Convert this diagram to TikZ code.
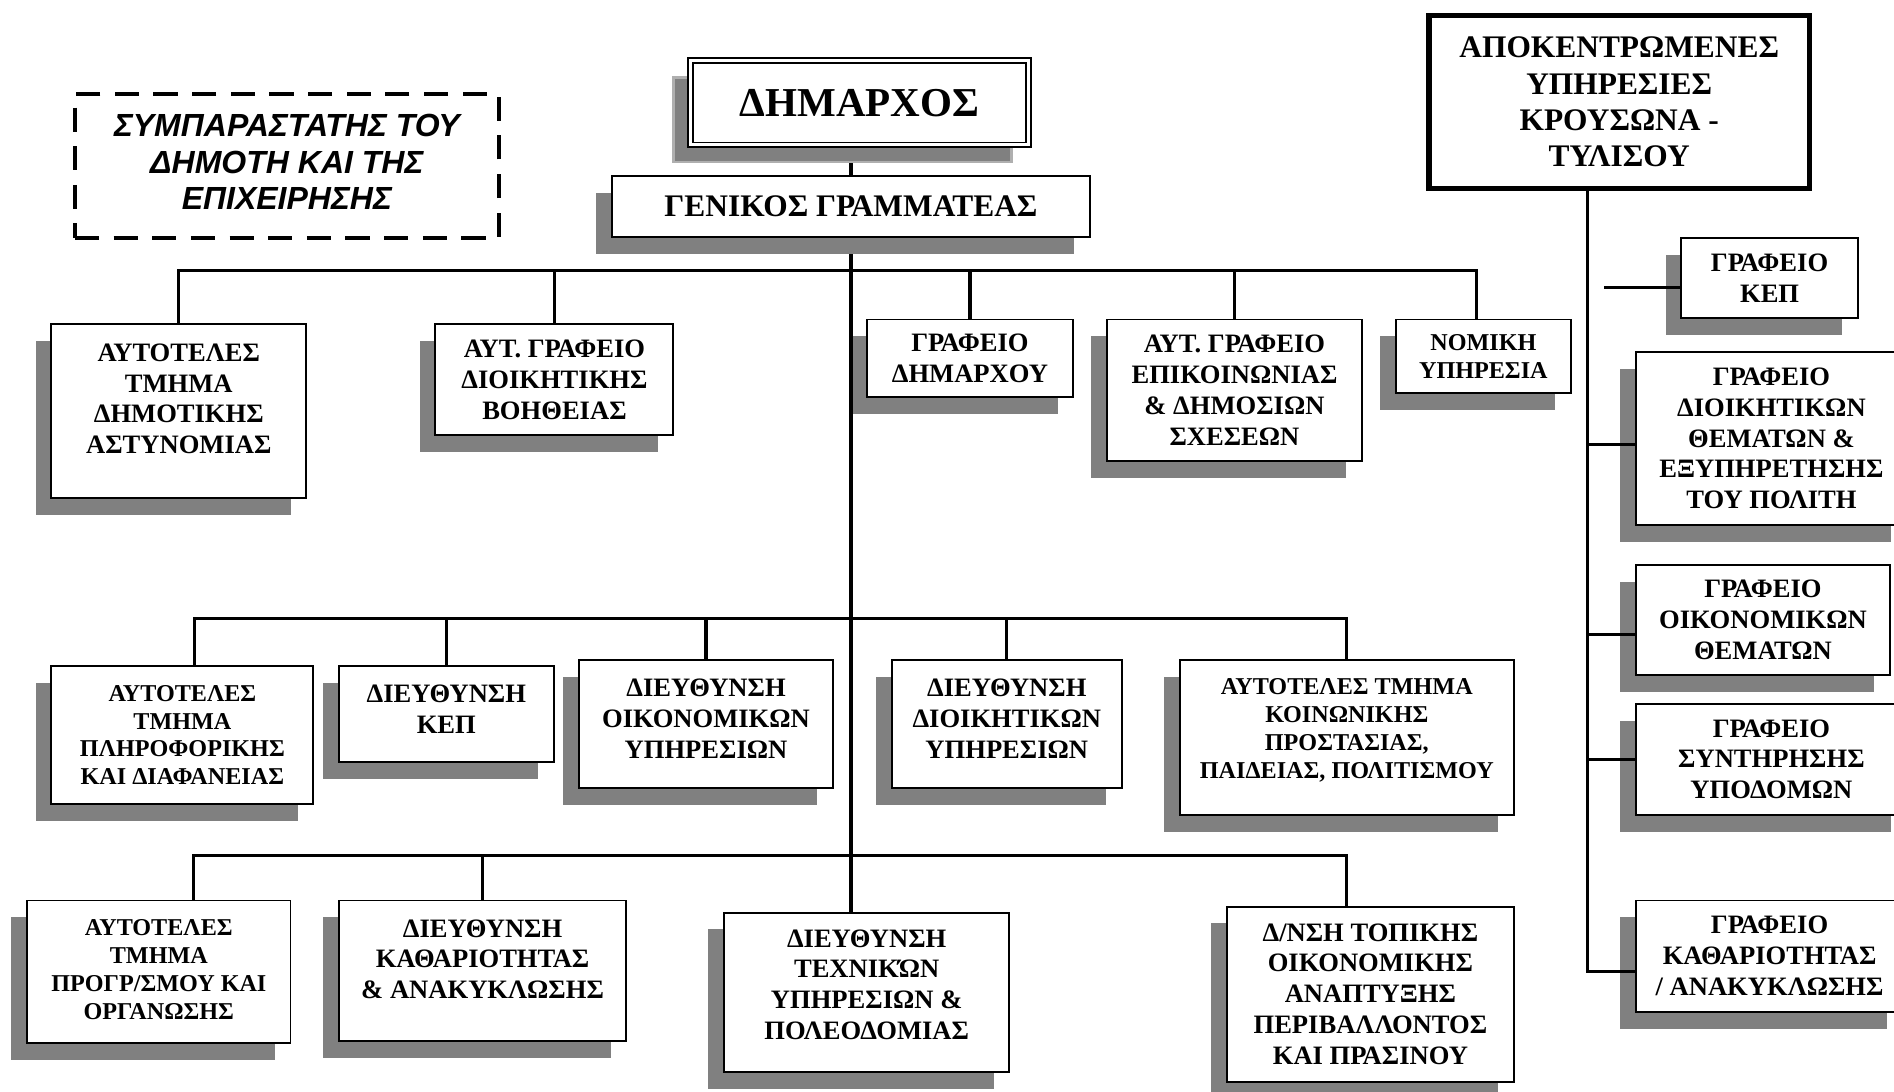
\documentclass[tikz,border=0pt]{standalone}
\usepackage{fontspec}
\setmainfont{Liberation Serif}
\newfontfamily\sympfont{Liberation Sans}
\usetikzlibrary{shadows,backgrounds}

\definecolor{shadowgray}{RGB}{128,128,128}
\definecolor{shadowline}{RGB}{175,175,175}

% invisible depth below the last line, lifts the text in its box
\newcommand{\lift}[1]{\rule[-#1pt]{0pt}{0pt}}

\begin{document}
\begin{tikzpicture}[x=1pt,y=-1pt,
        unit/.style={draw, line width=1.6pt, fill=white, align=center, inner sep=0pt,
            font=\bfseries\fontsize{22}{25.5}\selectfont,
            drop shadow={shadow xshift=-13pt, shadow yshift=-14pt, fill=shadowgray, opacity=1}},
        smallunit/.style={unit, font=\bfseries\fontsize{20}{23}\selectfont},
        link/.style={line width=2.6pt}]
        \useasboundingbox (0,0) rectangle (1568,904);

        % top
        \node[draw, line width=3.5pt, dash pattern=on 20pt off 12pt, minimum width=351, minimum height=119,
            align=center, inner sep=0pt, font=\sympfont\bfseries\itshape\fontsize{26.5}{30}\selectfont]
            (sympar) at (237.5,137.5) {ΣΥΜΠΑΡΑΣΤΑΤΗΣ ΤΟΥ\\ΔΗΜΟΤΗ ΚΑΙ ΤΗΣ\\ΕΠΙΧΕΙΡΗΣΗΣ\lift{7}};
        \node[draw, double, double distance=2.5pt, line width=1.5pt, fill=white, minimum width=280,
            minimum height=70, inner sep=0pt, font=\bfseries\fontsize{34}{38}\selectfont,
            drop shadow={shadow xshift=-14pt, shadow yshift=-14pt, fill=shadowgray, draw=shadowline, line width=2pt, opacity=1}]
            (mayor) at (711.5,85) {ΔΗΜΑΡΧΟΣ};
        \node[unit, minimum width=396, minimum height=51, font=\bfseries\fontsize{26}{30}\selectfont]
            (gensec) at (704.5,171) {ΓΕΝΙΚΟΣ ΓΡΑΜΜΑΤΕΑΣ};
        \node[draw, line width=4.5pt, fill=white, minimum width=315, minimum height=143, inner sep=0pt,
            align=center, font=\bfseries\fontsize{26}{30}\selectfont]
            (apok) at (1340.5,84.5) {ΑΠΟΚΕΝΤΡΩΜΕΝΕΣ\\ΥΠΗΡΕΣΙΕΣ\\ΚΡΟΥΣΩΝΑ -\\ΤΥΛΙΣΟΥ};

        % first row
        \node[unit, minimum width=211, minimum height=144] (astyn) at (148,340.5) {ΑΥΤΟΤΕΛΕΣ\\ΤΜΗΜΑ\\ΔΗΜΟΤΙΚΗΣ\\ΑΣΤΥΝΟΜΙΑΣ\lift{21}};
        \node[unit, minimum width=197, minimum height=92] (voith) at (459,314.5) {ΑΥΤ. ΓΡΑΦΕΙΟ\\ΔΙΟΙΚΗΤΙΚΗΣ\\ΒΟΗΘΕΙΑΣ};
        \node[unit, minimum width=171, minimum height=64] (dimarx) at (803,296.5) {ΓΡΑΦΕΙΟ\\ΔΗΜΑΡΧΟΥ};
        \node[unit, minimum width=211, minimum height=117] (epik) at (1022,323) {ΑΥΤ. ΓΡΑΦΕΙΟ\\ΕΠΙΚΟΙΝΩΝΙΑΣ\\\& ΔΗΜΟΣΙΩΝ\\ΣΧΕΣΕΩΝ};
        \node[smallunit, minimum width=145, minimum height=61] (nomiki) at (1228,295) {ΝΟΜΙΚΗ\\ΥΠΗΡΕΣΙΑ};

        % second row
        \node[smallunit, minimum width=217, minimum height=114] (plir) at (151,608.5) {ΑΥΤΟΤΕΛΕΣ\\ΤΜΗΜΑ\\ΠΛΗΡΟΦΟΡΙΚΗΣ\\ΚΑΙ ΔΙΑΦΑΝΕΙΑΣ};
        \node[unit, minimum width=178, minimum height=79] (kepd) at (369.5,591) {ΔΙΕΥΘΥΝΣΗ\\ΚΕΠ\lift{8}};
        \node[unit, minimum width=210, minimum height=106] (oikyp) at (584.5,599.5) {ΔΙΕΥΘΥΝΣΗ\\ΟΙΚΟΝΟΜΙΚΩΝ\\ΥΠΗΡΕΣΙΩΝ\lift{9}};
        \node[unit, minimum width=190, minimum height=106] (dioikyp) at (833.5,599.5) {ΔΙΕΥΘΥΝΣΗ\\ΔΙΟΙΚΗΤΙΚΩΝ\\ΥΠΗΡΕΣΙΩΝ\lift{9}};
        \node[smallunit, minimum width=277, minimum height=128] (koin) at (1115,610.5) {ΑΥΤΟΤΕΛΕΣ ΤΜΗΜΑ\\ΚΟΙΝΩΝΙΚΗΣ\\ΠΡΟΣΤΑΣΙΑΣ,\\ΠΑΙΔΕΙΑΣ, ΠΟΛΙΤΙΣΜΟΥ\lift{15}};

        % third row
        \node[smallunit, minimum width=218, minimum height=118] (prog) at (131.5,804.5) {ΑΥΤΟΤΕΛΕΣ\\ΤΜΗΜΑ\\ΠΡΟΓΡ/ΣΜΟΥ ΚΑΙ\\ΟΡΓΑΝΩΣΗΣ\lift{4}};
        \node[unit, minimum width=238, minimum height=116] (kath) at (399.5,803.5) {ΔΙΕΥΘΥΝΣΗ\\ΚΑΘΑΡΙΟΤΗΤΑΣ\\\& ΑΝΑΚΥΚΛΩΣΗΣ\lift{19}};
        \node[unit, minimum width=236, minimum height=132] (texn) at (717.5,821.5) {ΔΙΕΥΘΥΝΣΗ\\ΤΕΧΝΙΚΏΝ\\ΥΠΗΡΕΣΙΩΝ \&\\ΠΟΛΕΟΔΟΜΙΑΣ\lift{13}};
        \node[unit, minimum width=238, minimum height=145] (topik) at (1134.5,823) {Δ/ΝΣΗ ΤΟΠΙΚΗΣ\\ΟΙΚΟΝΟΜΙΚΗΣ\\ΑΝΑΠΤΥΞΗΣ\\ΠΕΡΙΒΑΛΛΟΝΤΟΣ\\ΚΑΙ ΠΡΑΣΙΝΟΥ};

        % right column
        \node[unit, minimum width=146, minimum height=66] (kepgr) at (1465,230) {ΓΡΑΦΕΙΟ\\ΚΕΠ};
        \node[unit, minimum width=224, minimum height=143] (dioikth) at (1466.5,363) {ΓΡΑΦΕΙΟ\\ΔΙΟΙΚΗΤΙΚΩΝ\\ΘΕΜΑΤΩΝ \&\\ΕΞΥΠΗΡΕΤΗΣΗΣ\\ΤΟΥ ΠΟΛΙΤΗ};
        \node[unit, minimum width=210, minimum height=91] (oikth) at (1459.5,513) {ΓΡΑΦΕΙΟ\\ΟΙΚΟΝΟΜΙΚΩΝ\\ΘΕΜΑΤΩΝ};
        \node[unit, minimum width=224, minimum height=92] (synt) at (1466.5,628.5) {ΓΡΑΦΕΙΟ\\ΣΥΝΤΗΡΗΣΗΣ\\ΥΠΟΔΟΜΩΝ};
        \node[unit, minimum width=221, minimum height=92] (kathgr) at (1465,791.5) {ΓΡΑΦΕΙΟ\\ΚΑΘΑΡΙΟΤΗΤΑΣ\\/ ΑΝΑΚΥΚΛΩΣΗΣ};

        % lines
        \coordinate (bus1) at (705,224);
        \coordinate (bus2) at (705,512);
        \coordinate (bus3) at (705,708);
        \begin{scope}[on background layer]
            \draw[link] (mayor.south -| gensec.north) -- (gensec.north);
            \draw[link] (gensec.south) -- (gensec.south |- bus1);
        \end{scope}
        \draw[link] (gensec.south |- bus1) -- (gensec.south |- texn.north);

        \draw[link] (astyn.north) |- ([xshift=-6pt]nomiki.north |- bus1) -- ([xshift=-6pt]nomiki.north);
        \foreach \n in {voith,dimarx,epik}
            \draw[link] (\n.north) -- (\n.north |- bus1);

        \draw[link] ([xshift=10pt]plir.north) |- (koin.north |- bus2) -- (koin.north);
        \foreach \n in {kepd,oikyp,dioikyp}
            \draw[link] (\n.north) -- (\n.north |- bus2);

        \draw[link] ([xshift=29pt]prog.north) |- ([xshift=-20pt]topik.north |- bus3) -- ([xshift=-20pt]topik.north);
        \draw[link] (kath.north) -- (kath.north |- bus3);

        \coordinate (rspine) at (1314,0);
        \coordinate (kepstub) at (1328,238);
        \draw[link] (apok.south -| rspine) |- ([yshift=-13pt]kathgr.west);
        \draw[link] ([yshift=-5pt]dioikth.west) -- ([yshift=-5pt]dioikth.west -| rspine);
        \draw[link] ([yshift=-12pt]oikth.west) -- ([yshift=-12pt]oikth.west -| rspine);
        \draw[link] (synt.west) -- (synt.west -| rspine);
        \draw[link] (kepstub) -- (kepgr.west |- kepstub);
    \end{tikzpicture}
\end{document}
